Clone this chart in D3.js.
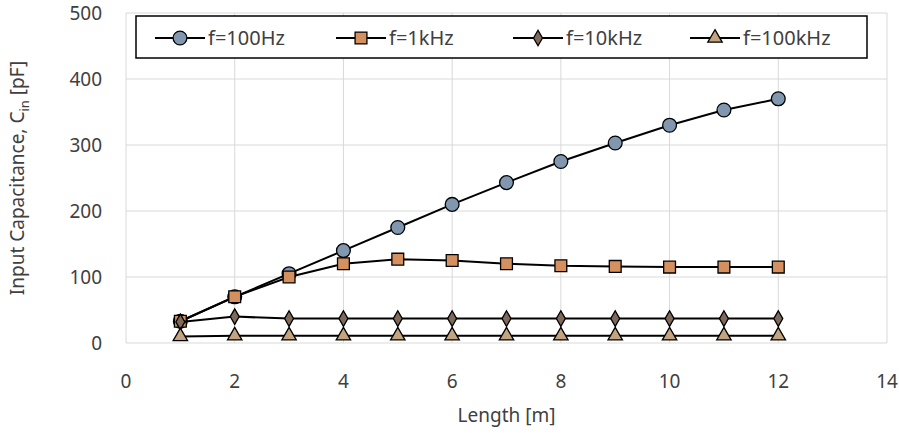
<!DOCTYPE html><html><head><meta charset="utf-8"><script src="https://cdn.jsdelivr.net/npm/d3@7"></script>
<style>body{margin:0;background:#fff}text{font-family:"Noto Sans",sans-serif;fill:#404040}</style></head><body><svg id="c" width="899" height="433"></svg><script>
const lengths=[1,2,3,4,5,6,7,8,9,10,11,12];
const c100Hz=[33,70,105,140,175,210,243,275,303,330,353,370];
const c1kHz=[33,70,100,120,127,125,120,117,116,115,115,115];
const c10kHz=[32,40,37,37,37,37,37,37,37,37,37,37];
const c100kHz=[10,11,11,11,11,11,11,11,11,11,11,11];
const names=["f=100Hz","f=1kHz","f=10kHz","f=100kHz"];
const xTicks=[0,2,4,6,8,10,12,14], yTicks=[0,100,200,300,400,500];
const series=[c100Hz,c1kHz,c10kHz,c100kHz];
const colors=["#8197AF","#D4905F","#7E6A5B","#C4A47E"];
const shapes=[d3.symbolCircle,d3.symbolSquare,d3.symbolDiamond,d3.symbolTriangle];
const sizes=[150,140,70,90];
const svg=d3.select("#c");
const x=d3.scaleLinear().domain([0,14]).range([126,887]);
const y=d3.scaleLinear().domain([0,500]).range([343,13]);
const g=svg.append("g");
g.selectAll(".vg").data(xTicks).join("line").attr("x1",d=>x(d)).attr("x2",d=>x(d)).attr("y1",y(0)).attr("y2",y(500)).attr("stroke","#d9d9d9");
g.selectAll(".hg").data(yTicks).join("line").attr("y1",d=>y(d)).attr("y2",d=>y(d)).attr("x1",x(0)).attr("x2",x(14)).attr("stroke","#d9d9d9");
g.selectAll(".xt").data(xTicks).join("text").attr("x",d=>x(d)).attr("y",y(0)+45).attr("text-anchor","middle").attr("font-size",19).text(d=>d);
g.selectAll(".yt").data(yTicks).join("text").attr("x",x(0)-24).attr("y",d=>y(d)+7).attr("text-anchor","end").attr("font-size",19).text(d=>d);
svg.append("text").attr("x",x(7)).attr("y",422).attr("text-anchor","middle").attr("font-size",19).text("Length [m]");
const yl=svg.append("text").attr("transform","translate(24,178) rotate(-90)").attr("text-anchor","middle").attr("font-size",19);
yl.append("tspan").text("Input Capacitance, C");yl.append("tspan").attr("font-size",13).attr("dy",5).text("in");yl.append("tspan").attr("dy",-5).text(" [pF]");
const line=d3.line().x((d,i)=>x(lengths[i])).y(d=>y(d));
series.forEach((s,k)=>{
 svg.append("path").datum(s).attr("d",line).attr("fill","none").attr("stroke","#000").attr("stroke-width",2);
 svg.selectAll(".m"+k).data(s).join("path").attr("d",d3.symbol(shapes[k],sizes[k])).attr("transform",(d,i)=>`translate(${x(lengths[i])},${y(d)})`).attr("fill",colors[k]).attr("stroke","#000").attr("stroke-width",1.3);
});
const lg=svg.append("g");
lg.append("rect").attr("x",136).attr("y",16).attr("width",731).attr("height",42).attr("fill","#fff").attr("stroke","#000").attr("stroke-width",1.5);
const lx=[155,336,513,690];
names.forEach((n,k)=>{
 lg.append("line").attr("x1",lx[k]).attr("x2",lx[k]+50).attr("y1",38).attr("y2",38).attr("stroke","#000").attr("stroke-width",2);
 lg.append("path").attr("d",d3.symbol(shapes[k],sizes[k])).attr("transform",`translate(${lx[k]+25},38)`).attr("fill",colors[k]).attr("stroke","#000").attr("stroke-width",1.3);
 lg.append("text").attr("x",lx[k]+53).attr("y",45).attr("font-size",20).text(n);
});
</script></body></html>
